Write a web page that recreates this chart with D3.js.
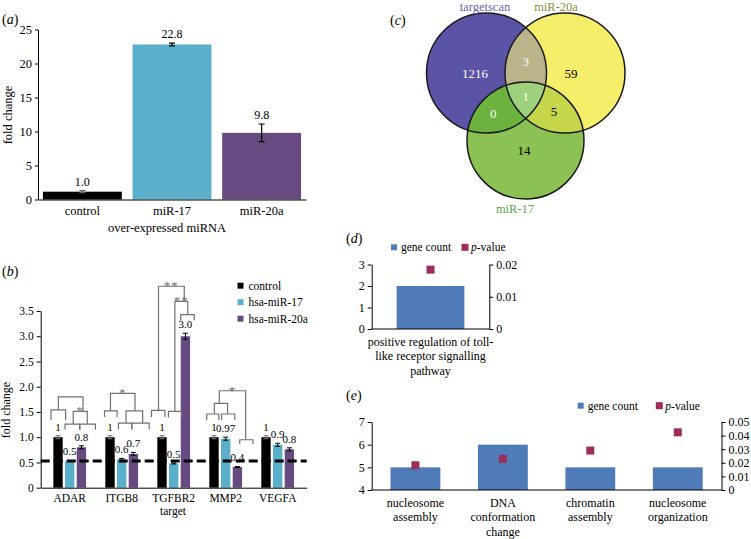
<!DOCTYPE html>
<html>
<head>
<meta charset="utf-8">
<script src="https://cdn.jsdelivr.net/npm/d3@7"></script>
<style>
  body { margin: 0; background: #fff; }
  svg { font-family: "Liberation Serif", "Times New Roman", serif; }
</style>
</head>
<body>
<svg id="fig" width="751" height="539"></svg>
<script>
// (a) over-expressed miRNA
var aMirnas = ['control', 'miR-17', 'miR-20a'];
var aFold = [1.15, 22.8, 9.8];
var aErr = [0.15, 0.2, 1.3];
var aText = ['1.0', '22.8', '9.8'];
var aTicks = [0, 5, 10, 15, 20, 25];

// (b) target genes
var bTargets = ['ADAR', 'ITGB8', 'TGFBR2', 'MMP2', 'VEGFA'];
var bSeries = ['control', 'hsa-miR-17', 'hsa-miR-20a'];
var bControl = [1, 1, 1, 1, 1];
var bMir17 = [0.53, 0.56, 0.48, 0.97, 0.85];
var bMir20a = [0.8, 0.67, 3.0, 0.41, 0.76];
var bControlErr = [0.03, 0.03, 0.03, 0.03, 0.03];
var bMir17Err = [0.01, 0.02, 0.01, 0.03, 0.03];
var bMir20aErr = [0.03, 0.03, 0.06, 0.01, 0.03];
var bControlText = ['1', '1', '1', '1', '1'];
var bMir17Text = ['0.5', '0.6', '0.5', '0.97', '0.9'];
var bMir20aText = ['0.8', '0.7', '3.0', '0.4', '0.8'];
var bCutoff = 0.53;
var bTicks = [0, 0.5, 1, 1.5, 2, 2.5, 3, 3.5];
// brackets: target index, from bar, to bar (0 control, 1 miR-17, 2 miR-20a),
// top, left leg end, right leg end, stars
var bBrackets = [
  [0, -0.6, 0.65, 1.54, 1.34, 1.34, ''],
  [0, 0.03, 2.14, 1.80, 1.54, 1.51, ''],
  [0, 1.3, 2.5, 1.51, 1.26, 1.26, '*'],
  [0, 0.6, 1.86, 1.26, 1.15, 1.15, ''],
  [0, 1.86, 3.2, 1.26, 1.15, 1.15, ''],
  [1, -0.47, 0.61, 1.52, 1.40, 1.40, ''],
  [1, 0.04, 2.14, 1.87, 1.52, 1.52, '*'],
  [1, 1.37, 2.79, 1.52, 1.28, 1.28, ''],
  [1, 0.72, 1.86, 1.28, 1.16, 1.16, ''],
  [1, 1.86, 3.35, 1.28, 1.16, 1.16, ''],
  [2, -0.9, 0.25, 1.53, 1.40, 1.40, ''],
  [2, -0.3, 1.9, 3.99, 1.53, 3.69, '**'],
  [2, 0.55, 1.7, 1.51, 1.39, 1.39, ''],
  [2, 1.1, 2.2, 3.69, 1.51, 3.43, '**'],
  [2, 1.6, 2.75, 3.43, 3.31, 3.31, ''],
  [3, -0.62, 0.42, 1.46, 1.34, 1.34, ''],
  [3, 0.65, 1.78, 1.46, 1.34, 1.34, ''],
  [3, 0.03, 1.16, 1.67, 1.46, 1.46, ''],
  [3, 0.45, 2.71, 1.92, 1.67, 0.95, '*'],
  [3, 2.2, 3.33, 0.95, 0.86, 0.86, '']
];

// (c) venn
var vennSets = ['targetscan', 'miR-20a', 'miR-17'];
var vennRegions = [[0], [1], [2], [0, 1], [0, 2], [1, 2], [0, 1, 2]];
var vennCounts = [1216, 59, 14, 3, 0, 5, 1];

// (d) GO term for miR-17/20a common targets
var dTerms = ['positive regulation of toll-like receptor signalling pathway'];
var dTermLines = [['positive regulation of toll-', 'like receptor signalling', 'pathway']];
var dCounts = [2];
var dPvalues = [0.0184];
var dCountTicks = [0, 1, 2, 3];
var dPTicks = [0, 0.01, 0.02];

// (e) GO terms
var eTerms = ['nucleosome assembly', 'DNA conformation change', 'chromatin assembly', 'nucleosome organization'];
var eTermLines = [['nucleosome', 'assembly'], ['DNA', 'conformation', 'change'], ['chromatin', 'assembly'], ['nucleosome', 'organization']];
var eCounts = [5, 6, 5, 5];
var ePvalues = [0.0182, 0.0228, 0.029, 0.0424];
var eCountTicks = [4, 5, 6, 7];
var ePTicks = [0, 0.01, 0.02, 0.03, 0.04, 0.05];

var barColors = ['#000000', '#5aafcb', '#674a7f'];
var goBlue = '#4f7bb8';
var goPink = '#9c2c5c';

var svg = d3.select('#fig');

function styleAxis(g, size) {
  g.attr('font-family', null).attr('font-size', size);
  g.selectAll('text').attr('fill', '#000');
  g.selectAll('line, path').attr('stroke', '#000');
}

function panelLabel(x, y, letter) {
  var t = svg.append('text').attr('x', x).attr('y', y).attr('font-size', 14);
  t.append('tspan').text('(');
  t.append('tspan').attr('font-style', 'italic').text(letter);
  t.append('tspan').text(')');
}

// ---------- (a)
var xa = d3.scaleBand().domain(aMirnas).range([38, 306]).paddingInner(0.12).paddingOuter(0.055);
var ya = d3.scaleLinear().domain([0, 25]).range([199.5, 29.5]);
var pa = svg.append('g');

pa.selectAll('rect').data(aFold).join('rect')
    .attr('x', (d, i) => xa(aMirnas[i]))
    .attr('width', xa.bandwidth())
    .attr('y', d => ya(d))
    .attr('height', d => ya(0) - ya(d))
    .attr('fill', (d, i) => barColors[i]);

aFold.forEach(function(v, i) {
  var cx = xa(aMirnas[i]) + xa.bandwidth() / 2;
  pa.append('path')
      .attr('d', 'M' + (cx - 3) + ',' + ya(v + aErr[i]) + 'H' + (cx + 3) +
          'M' + cx + ',' + ya(v + aErr[i]) + 'V' + ya(v - aErr[i]) +
          'M' + (cx - 3) + ',' + ya(v - aErr[i]) + 'H' + (cx + 3))
      .attr('stroke', i === 0 ? '#666' : '#000').attr('stroke-width', 1.2).attr('fill', 'none');
  pa.append('text').attr('x', cx).attr('y', ya(v + aErr[i]) - 5)
      .attr('text-anchor', 'middle').attr('font-size', 12).text(aText[i]);
});

pa.append('g').attr('transform', 'translate(38,0)')
    .call(d3.axisLeft(ya).tickValues(aTicks).tickSize(3).tickSizeOuter(0).tickPadding(3))
    .call(styleAxis, 12.5);
pa.append('g').attr('transform', 'translate(0,199.5)')
    .call(d3.axisBottom(xa).tickSize(0).tickSizeOuter(0).tickPadding(7))
    .call(styleAxis, 12.5);
pa.append('text').attr('transform', 'translate(12,115) rotate(-90)')
    .attr('text-anchor', 'middle').attr('font-size', 12.5).text('fold change');
pa.append('text').attr('x', 167).attr('y', 232)
    .attr('text-anchor', 'middle').attr('font-size', 12.5).text('over-expressed miRNA');
panelLabel(2, 24, 'a');

// ---------- (b)
var xb = d3.scaleBand().domain(bTargets).range([40.7, 306.7]).paddingInner(0.37).paddingOuter(0.243);
var xb1 = d3.scaleBand().domain(bSeries).range([0, xb.bandwidth()]).paddingInner(0.2);
var yb = d3.scaleLinear().domain([0, 3.5]).range([487.7, 311]);
var pb = svg.append('g');

var bVals = [bControl, bMir17, bMir20a];
var bErrs = [bControlErr, bMir17Err, bMir20aErr];
var bTexts = [bControlText, bMir17Text, bMir20aText];

function slotX(gi, s) {
  return xb(bTargets[gi]) + xb1(bSeries[0]) + xb1.bandwidth() / 2 + s * xb1.step();
}

var bGroups = pb.selectAll('g.target').data(bTargets).join('g')
    .attr('class', 'target')
    .attr('transform', d => 'translate(' + xb(d) + ',0)');

bSeries.forEach(function(s, si) {
  bGroups.append('rect')
      .attr('x', xb1(s))
      .attr('width', xb1.bandwidth())
      .attr('y', (d, gi) => yb(bVals[si][gi]))
      .attr('height', (d, gi) => yb(0) - yb(bVals[si][gi]))
      .attr('fill', barColors[si]);
  bGroups.append('path')
      .attr('d', function(d, gi) {
        var cx = xb1(s) + xb1.bandwidth() / 2;
        var t = yb(bVals[si][gi] + bErrs[si][gi]), b = yb(bVals[si][gi] - bErrs[si][gi]);
        return 'M' + (cx - 2.5) + ',' + t + 'H' + (cx + 2.5) + 'M' + cx + ',' + t + 'V' + b +
            'M' + (cx - 2.5) + ',' + b + 'H' + (cx + 2.5);
      })
      .attr('stroke', si === 0 ? '#777' : '#000').attr('stroke-width', 1).attr('fill', 'none');
  bGroups.append('text')
      .attr('x', xb1(s) + xb1.bandwidth() / 2)
      .attr('y', (d, gi) => yb(bVals[si][gi] + bErrs[si][gi]) - 5)
      .attr('text-anchor', 'middle').attr('font-size', 11)
      .text((d, gi) => bTexts[si][gi]);
});

pb.selectAll('path.bracket').data(bBrackets).join('path')
    .attr('class', 'bracket')
    .attr('d', function(b) {
      var x0 = slotX(b[0], b[1]), x1 = slotX(b[0], b[2]);
      return 'M' + x0 + ',' + yb(b[4]) + 'V' + yb(b[3]) + 'H' + x1 + 'V' + yb(b[5]);
    })
    .attr('fill', 'none').attr('stroke', '#707070').attr('stroke-width', 1.2);

pb.selectAll('text.star').data(bBrackets.filter(b => b[6])).join('text')
    .attr('class', 'star')
    .attr('x', b => (slotX(b[0], b[1]) + slotX(b[0], b[2])) / 2)
    .attr('y', b => yb(b[3]) + 4)
    .attr('text-anchor', 'middle').attr('font-size', 13).attr('fill', '#707070')
    .attr('letter-spacing', 1)
    .text(b => b[6]);

pb.append('line')
    .attr('x1', 40.7).attr('x2', 306.7).attr('y1', yb(bCutoff)).attr('y2', yb(bCutoff))
    .attr('stroke', '#000').attr('stroke-width', 3).attr('stroke-dasharray', '9,4');

pb.append('g').attr('transform', 'translate(40.7,0)')
    .call(d3.axisLeft(yb).tickValues(bTicks).tickSize(4).tickSizeOuter(0).tickPadding(3)
        .tickFormat(d => d === 0 ? '0' : d.toFixed(1)))
    .call(styleAxis, 11.5);
pb.append('g').attr('transform', 'translate(0,' + yb(0) + ')')
    .call(d3.axisBottom(xb).tickSize(0).tickSizeOuter(0).tickPadding(6.5))
    .call(styleAxis, 11.5);
pb.append('text').attr('x', 173).attr('y', 515)
    .attr('text-anchor', 'middle').attr('font-size', 11.5).text('target');
pb.append('text').attr('transform', 'translate(10,410) rotate(-90)')
    .attr('text-anchor', 'middle').attr('font-size', 12).text('fold change');

var bLegend = pb.selectAll('g.legend').data(bSeries).join('g')
    .attr('class', 'legend')
    .attr('transform', (d, i) => 'translate(237.5,' + (285.7 + i * 16.5) + ')');
bLegend.append('rect').attr('x', 0).attr('y', -3).attr('width', 6).attr('height', 6)
    .attr('fill', (d, i) => barColors[i]);
bLegend.append('text').attr('x', 11).attr('y', 4).attr('font-size', 11.5).text(d => d);
panelLabel(2, 276, 'b');

// ---------- (c)
var vennLayout = {
  circles: [{cx: 486.5, cy: 73, r: 60}, {cx: 565, cy: 73, r: 60}, {cx: 525.5, cy: 140.5, r: 58.5}],
  setLabels: [[485, 11], [556, 11], [515, 213]],
  regionLabels: [[475, 73], [571, 73], [524, 150], [525.7, 61], [493.3, 113.3], [554, 111.7], [525.7, 96]]
};
var vennFill = ['#5a53a6', '#f4ee6a', '#8cc153', '#bab48a', '#6cb23e', '#c5d64b', '#9fd17c'];
var vennInk = ['#fff', '#000', '#000', '#fff', '#fff', '#000', '#fff'];
var vennSetInk = ['#6a63b8', '#8c8c3a', '#5ba64a'];

var pc = svg.append('g');
var defs = svg.append('defs');
vennLayout.circles.forEach(function(c, i) {
  defs.append('clipPath').attr('id', 'vc' + i)
      .append('circle').attr('cx', c.cx).attr('cy', c.cy).attr('r', c.r);
});

vennRegions.forEach(function(reg, ri) {
  var last = reg[reg.length - 1];
  var host = pc;
  reg.slice(0, -1).forEach(function(k) {
    host = host.append('g').attr('clip-path', 'url(#vc' + k + ')');
  });
  var c = vennLayout.circles[last];
  host.append('circle').attr('cx', c.cx).attr('cy', c.cy).attr('r', c.r)
      .attr('fill', vennFill[ri]);
});

pc.selectAll('circle.outline').data(vennLayout.circles).join('circle')
    .attr('class', 'outline')
    .attr('cx', c => c.cx).attr('cy', c => c.cy).attr('r', c => c.r)
    .attr('fill', 'none').attr('stroke', '#1a1a1a').attr('stroke-width', 1.5);

pc.selectAll('text.count').data(vennCounts).join('text')
    .attr('class', 'count')
    .attr('x', (d, i) => vennLayout.regionLabels[i][0])
    .attr('y', (d, i) => vennLayout.regionLabels[i][1])
    .attr('dy', '0.35em')
    .attr('text-anchor', 'middle').attr('font-size', 13)
    .attr('fill', (d, i) => vennInk[i])
    .text(d => d);

pc.selectAll('text.set').data(vennSets).join('text')
    .attr('class', 'set')
    .attr('x', (d, i) => vennLayout.setLabels[i][0])
    .attr('y', (d, i) => vennLayout.setLabels[i][1])
    .attr('text-anchor', 'middle').attr('font-size', 12.5)
    .attr('fill', (d, i) => vennSetInk[i])
    .text(d => d);
panelLabel(390, 24.5, 'c');

// ---------- (d), (e)
function goPanel(cfg) {
  var g = svg.append('g');
  var x = d3.scaleBand().domain(cfg.terms).range(cfg.xRange).paddingInner(cfg.pad).paddingOuter(cfg.pad / 2);
  var yL = d3.scaleLinear().domain(cfg.countDomain).range(cfg.yRange);
  var yR = d3.scaleLinear().domain(cfg.pDomain).range(cfg.yRange);

  g.selectAll('rect.bar').data(cfg.counts).join('rect')
      .attr('class', 'bar')
      .attr('x', (d, i) => x(cfg.terms[i]))
      .attr('width', x.bandwidth())
      .attr('y', d => yL(d))
      .attr('height', d => yL(cfg.countDomain[0]) - yL(d))
      .attr('fill', goBlue);

  g.selectAll('rect.pval').data(cfg.pvals).join('rect')
      .attr('class', 'pval')
      .attr('x', (d, i) => x(cfg.terms[i]) + x.bandwidth() / 2 - 4)
      .attr('y', d => yR(d) - 4)
      .attr('width', 8).attr('height', 8)
      .attr('fill', goPink);

  g.append('g').attr('transform', 'translate(' + cfg.xRange[0] + ',0)')
      .call(d3.axisLeft(yL).tickValues(cfg.countTicks).tickSize(4).tickSizeOuter(0).tickPadding(3)
          .tickFormat(d3.format('d')))
      .call(styleAxis, 12);
  g.append('g').attr('transform', 'translate(' + cfg.xRange[1] + ',0)')
      .call(d3.axisRight(yR).tickValues(cfg.pTicks).tickSize(4).tickSizeOuter(0).tickPadding(3)
          .tickFormat(d => d === 0 ? '0' : d.toFixed(2)))
      .call(styleAxis, 12);
  g.append('line')
      .attr('x1', cfg.xRange[0]).attr('x2', cfg.xRange[1])
      .attr('y1', cfg.yRange[0]).attr('y2', cfg.yRange[0])
      .attr('stroke', '#000');

  cfg.lines.forEach(function(lines, i) {
    var t = g.append('text').attr('text-anchor', 'middle').attr('font-size', 12);
    lines.forEach(function(s, j) {
      t.append('tspan')
          .attr('x', x(cfg.terms[i]) + x.bandwidth() / 2)
          .attr('y', cfg.yRange[0] + 16.5 + j * 14.8)
          .text(s);
    });
  });

  var lg = g.append('g').attr('transform', 'translate(0,' + cfg.legendY + ')');
  lg.append('rect').attr('x', cfg.legendX[0] - 3).attr('y', -3).attr('width', 6).attr('height', 6)
      .attr('fill', goBlue);
  lg.append('text').attr('x', cfg.legendX[0] + 7).attr('y', 4).attr('font-size', 11.5).text('gene count');
  lg.append('rect').attr('x', cfg.legendX[1] - 3.5).attr('y', -3.5).attr('width', 7).attr('height', 7)
      .attr('fill', goPink);
  var pt = lg.append('text').attr('x', cfg.legendX[1] + 6).attr('y', 4).attr('font-size', 11.5);
  pt.append('tspan').attr('font-style', 'italic').text('p');
  pt.append('tspan').text('-value');
}

goPanel({
  terms: dTerms, lines: dTermLines, counts: dCounts, pvals: dPvalues,
  countDomain: [0, 3], countTicks: dCountTicks, pDomain: [0, 0.02], pTicks: dPTicks,
  xRange: [371.7, 489.3], yRange: [329, 264.5], pad: 0.424,
  legendX: [394, 465], legendY: 247.3
});
panelLabel(346, 243, 'd');

goPanel({
  terms: eTerms, lines: eTermLines, counts: eCounts, pvals: ePvalues,
  countDomain: [4, 7], countTicks: eCountTicks, pDomain: [0, 0.05], pTicks: ePTicks,
  xRange: [371.7, 721.5], yRange: [490, 422], pad: 0.43,
  legendX: [580.7, 659.3], legendY: 405.7
});
panelLabel(346, 399.5, 'e');
</script>
</body>
</html>
